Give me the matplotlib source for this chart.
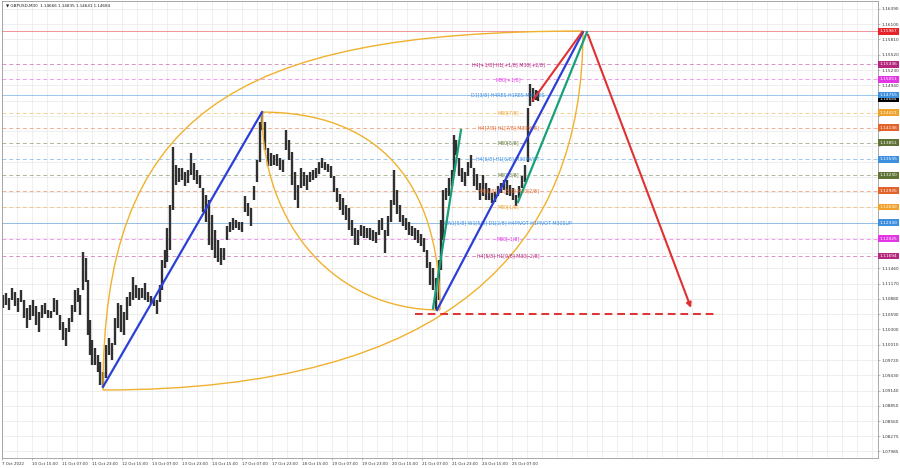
import numpy as np
import matplotlib.pyplot as plt
import matplotlib.transforms as mtransforms
from matplotlib.path import Path
from matplotlib.patches import PathPatch

# sampled M30 bars: chart position, high, low
t = [3, 6, 9, 12, 15, 18, 21, 24, 27, 30, 33, 36, 39, 42, 45, 48, 51, 54, 57, 60,
     63, 66, 69, 72, 75, 78, 80, 83, 86, 88, 90, 92, 95, 98, 100, 103,
     106, 109, 112, 115, 118, 121, 124, 127, 130, 133, 136, 139, 142, 145, 148, 151,
     154, 157, 160, 162, 165, 167, 170, 173, 176, 179, 182, 185, 188, 191, 194, 197,
     200, 203, 206, 209, 212, 215, 218, 221, 224, 227, 230, 233, 236, 239, 242, 245,
     248, 251, 254, 257, 260, 262,
     265, 268, 271, 274, 277, 280, 283, 286, 289, 292, 295, 298, 301, 304, 307, 310,
     313, 316, 319, 322, 325, 328, 331, 334, 337, 340, 343, 346, 349, 352, 355, 358,
     361, 364, 367, 370, 373, 376, 379, 382, 385, 388, 391, 394, 397, 400, 403, 406,
     409, 412, 415, 418, 421, 424, 427, 430, 433, 436,
     439, 441, 443, 446, 449, 452, 454, 456, 459, 462, 465, 468, 471, 474, 477, 480,
     483, 486, 489, 492, 495, 498, 501, 504, 507, 510, 513, 516, 519, 522, 525, 528,
     530, 533, 536, 538]

hi = [1.10955, 1.10993, 1.10898, 1.11088, 1.11012, 1.10898, 1.11050, 1.10860, 1.10708, 1.10765,
      1.10860, 1.10746, 1.10632, 1.10765, 1.10803, 1.10670, 1.10651, 1.10898, 1.10860, 1.10575,
      1.10442, 1.10328, 1.10518, 1.10765, 1.11050, 1.11088, 1.10955, 1.11772, 1.11658, 1.11240,
      1.10480, 1.10100, 1.09948, 1.09815, 1.09682, 1.09492,
      1.10005, 1.10138, 1.10043, 1.10518, 1.10803, 1.10765, 1.10632, 1.10917, 1.11012, 1.11297,
      1.11145, 1.11088, 1.11088, 1.11183, 1.11012, 1.10936, 1.10898, 1.10860, 1.11145,
      1.11620, 1.11810, 1.12228, 1.12665,
      1.13767, 1.13425, 1.13368, 1.13368, 1.13292, 1.13330, 1.13653, 1.13463, 1.13330, 1.13235,
      1.12988, 1.12855, 1.12760, 1.12475, 1.12190, 1.12000, 1.11848, 1.11848, 1.12266, 1.12342,
      1.12418, 1.12380, 1.12342, 1.12342, 1.12836, 1.12703, 1.12608, 1.13026, 1.13520, 1.14242,
      1.14432,
      1.14242, 1.13748, 1.13653, 1.13615, 1.13634, 1.13558, 1.13520, 1.14090, 1.13900, 1.13672,
      1.13292, 1.13045, 1.13368, 1.13292, 1.13235, 1.13292, 1.13330, 1.13368, 1.13482, 1.13558,
      1.13482, 1.13444, 1.13406, 1.13216, 1.12988, 1.12874, 1.12798, 1.12665, 1.12608, 1.12380,
      1.12228, 1.12190, 1.12285, 1.12266, 1.12228, 1.12228, 1.12190, 1.12152, 1.12380, 1.12418,
      1.12190, 1.12456, 1.12760, 1.13330, 1.12950, 1.12665, 1.12475, 1.12418, 1.12342, 1.12266,
      1.12228, 1.12190, 1.12114, 1.12038, 1.11810, 1.11582, 1.11468, 1.11278,
      1.11620, 1.12380, 1.12950, 1.12988, 1.13178, 1.13330, 1.13995, 1.13900, 1.13558, 1.13368,
      1.13292, 1.13482, 1.13615, 1.13368, 1.13254, 1.13083, 1.13235, 1.13083, 1.12988, 1.12893,
      1.12912, 1.13026, 1.13083, 1.13140, 1.13140, 1.13045, 1.12988, 1.12855, 1.13026, 1.13216,
      1.13425, 1.14508, 1.14964, 1.14888, 1.14850, 1.14835]

lo = [1.10708, 1.10765, 1.10670, 1.10860, 1.10746, 1.10632, 1.10822, 1.10518, 1.10328, 1.10480,
      1.10556, 1.10385, 1.10252, 1.10518, 1.10594, 1.10518, 1.10518, 1.10632, 1.10575, 1.10290,
      1.10100, 1.09986, 1.10252, 1.10442, 1.10632, 1.10822, 1.10575, 1.11050, 1.11202, 1.10195,
      1.09815, 1.09625, 1.09625, 1.09492, 1.09245, 1.09207,
      1.09378, 1.09815, 1.09720, 1.10005, 1.10328, 1.10252, 1.10195, 1.10480, 1.10746, 1.10860,
      1.10898, 1.10860, 1.10898, 1.10860, 1.10822, 1.10784, 1.10746, 1.10594, 1.10822,
      1.11050, 1.11468, 1.11582, 1.11810,
      1.12570, 1.13045, 1.13102, 1.13140, 1.13026, 1.13083, 1.13235, 1.13140, 1.13064, 1.12988,
      1.12532, 1.12342, 1.11905, 1.11810, 1.11658, 1.11582, 1.11525, 1.11620, 1.12000, 1.12152,
      1.12190, 1.12228, 1.12190, 1.12152, 1.12532, 1.12456, 1.12266, 1.12760, 1.13102, 1.13482,
      1.14090,
      1.13710, 1.13406, 1.13406, 1.13425, 1.13406, 1.13330, 1.13292, 1.13710, 1.13520, 1.13045,
      1.12760, 1.12608, 1.12988, 1.13026, 1.12950, 1.13102, 1.13140, 1.13178, 1.13254, 1.13368,
      1.13330, 1.13292, 1.13178, 1.12912, 1.12722, 1.12570, 1.12475, 1.12380, 1.12190, 1.12076,
      1.11905, 1.11905, 1.12076, 1.12038, 1.12038, 1.12000, 1.11981, 1.11943, 1.12095, 1.12190,
      1.11753, 1.12076, 1.12342, 1.12665, 1.12494, 1.12342, 1.12266, 1.12190, 1.12095, 1.12076,
      1.12000, 1.11943, 1.11886, 1.11772, 1.11468, 1.11145, 1.11050, 1.10670,
      1.10860, 1.11430, 1.12000, 1.12760, 1.12836, 1.13026, 1.13292, 1.13615, 1.13216, 1.13102,
      1.13026, 1.13216, 1.13368, 1.13026, 1.12950, 1.12760, 1.12836, 1.12760, 1.12760, 1.12703,
      1.12722, 1.12836, 1.12893, 1.12950, 1.12855, 1.12836, 1.12760, 1.12646, 1.12798, 1.12988,
      1.13102, 1.13482, 1.14546, 1.14622, 1.14660, 1.14641]

time_labels = ['7 Oct 2022', '10 Oct 15:00', '11 Oct 07:00', '11 Oct 23:00', '12 Oct 15:00',
               '13 Oct 07:00', '13 Oct 23:00', '14 Oct 15:00', '17 Oct 07:00', '17 Oct 23:00',
               '18 Oct 15:00', '19 Oct 07:00', '19 Oct 23:00', '20 Oct 15:00', '21 Oct 07:00',
               '21 Oct 23:00', '24 Oct 15:00', '25 Oct 07:00']

price_ticks = ['1.16390', '1.16100', '1.15810', '1.15520', '1.15230', '1.14940', '1.14650',
               '1.14360', '1.14070', '1.13780', '1.13490', '1.13200', '1.12910', '1.12620',
               '1.12330', '1.12040', '1.11750', '1.11460', '1.11170', '1.10880', '1.10590',
               '1.10300', '1.10010', '1.09720', '1.09430', '1.09140', '1.08850', '1.08560',
               '1.08275', '1.07985']

# murrey levels
levels = [1.15967, 1.15336, 1.15051, 1.14755, 1.14421, 1.14136, 1.13851,
          1.13535, 1.13230, 1.12935, 1.12630, 1.12330, 1.12025, 1.11694]
level_colors = ['#e8242b', '#b5267e', '#e536e5', '#3d8fe0', '#f0a22c', '#e3642b', '#5f7335',
                '#3d8fe0', '#5f7335', '#e3642b', '#f0a22c', '#3d8fe0', '#e536e5', '#b5267e']
level_solid = [True, False, False, True, False, False, False,
               False, False, False, False, True, False, False]
level_names = ['', 'H4[+1/8] H1[+1/8] M30[+2/8]', 'M30[+1/8]', 'D1[3/8] H4RES H1RES M30RES',
               'M30[7/8]', 'H4[7/8] H1[7/8] M30[6/8]', 'M30[5/8]', 'H4[6/8] H1[6/8] M30PIVOT',
               'M30[3/8]', 'H4[5/8] H1[5/8] M30[2/8]', 'M30[1/8]',
               'MN1[5/8] W1[5/8] D1[2/8] H4PIVOT H1PIVOT M30SUP', 'M30[-1/8]',
               'H4[5/8] H1[0/8] M30[-2/8]']

last_price = 1.14684
title = '\u25bc GBPUSD,M30  1.14666 1.14835 1.14641 1.14684'

# drawings on the chart (position, price)
blue_lines = [((103, 1.0921), (262, 1.1443)), ((437, 1.1067), (583, 1.1595))]
green_lines = [((433, 1.1070), (461, 1.1409)), ((518, 1.1272), (587, 1.1595))]
red_up = ((533, 1.1466), (582, 1.1595))
red_down = ((587, 1.1595), (692, 1.1066))
target_price = 1.1059
target_span = (415, 715)
big_lo, big_hi = (103, 1.0915), (583, 1.1597)
small_hi, small_lo = (262, 1.1443), (440, 1.1067)

fig = plt.figure(figsize=(9, 4.68), dpi=100)
ax = fig.add_axes([2 / 900, 10 / 468, 876 / 900, 457 / 468])
ax.set_xlim(2, 878)
ax.set_ylim(1.07858, 1.16541)

# axis labels, hide the ones sitting under a price box
boxed = levels + [last_price]
ylabels = [s if min(abs(float(s) - b) for b in boxed) > 0.00105 else '' for s in price_ticks]

ax.set_xticks([2 + 30 * i for i in range(len(time_labels))])
ax.set_xticklabels(time_labels, ha='left', fontsize=2.9, color='#333333')
ax.set_xticks(np.arange(17, 878, 15), minor=True)
ax.yaxis.tick_right()
ax.set_yticks([float(v) for v in price_ticks])
ax.set_yticklabels(ylabels, fontsize=3.1, color='#333333')
ax.tick_params(axis='both', which='both', length=1.5, width=0.4, color='#888888', pad=1.2)
ax.tick_params(axis='x', which='minor', length=0)
ax.grid(which='both', color='#e9e9e9', lw=0.5)
ax.set_axisbelow(True)
for s in ax.spines.values():
    s.set_color('#9a9a9a')
    s.set_linewidth(0.6)

# murrey level lines + labels
yt = mtransforms.blended_transform_factory(ax.transAxes, ax.transData)
ax.text(1.002, last_price, f'{last_price:.5f}', transform=yt, ha='left', va='center',
        fontsize=3.1, color='white', clip_on=False, zorder=6,
        bbox=dict(boxstyle='square,pad=0.3', fc='black', ec='none'))
for p, c, solid, name in zip(levels, level_colors, level_solid, level_names):
    ax.axhline(p, color=c, lw=0.7, alpha=0.5, ls='-' if solid else (0, (4, 3)), zorder=1)
    if name:
        ax.text(508, p, name, ha='center', va='center', fontsize=3.4, color=c, zorder=4)
    ax.text(1.002, p, f'{p:.5f}', transform=yt, ha='left', va='center', fontsize=3.1,
            color='white', clip_on=False, zorder=7,
            bbox=dict(boxstyle='square,pad=0.3', fc=c, ec='none'))

# price bars
ax.vlines(t, lo, hi, color='#303030', lw=1.7, zorder=2)

# ellipse-like arcs
arc_color = '#f0b12e'


def arc(p0, p1, corner, k0, k1):
    c0 = (p0[0] + k0 * (corner[0] - p0[0]), p0[1] + k0 * (corner[1] - p0[1]))
    c1 = (p1[0] + k1 * (corner[0] - p1[0]), p1[1] + k1 * (corner[1] - p1[1]))
    path = Path([p0, c0, c1, p1], [Path.MOVETO, Path.CURVE4, Path.CURVE4, Path.CURVE4])
    ax.add_patch(PathPatch(path, fill=False, ec=arc_color, lw=1.0, zorder=3))


arc(big_lo, big_hi, (big_lo[0], big_hi[1]), 0.76, 0.74)
arc(big_lo, big_hi, (big_hi[0], big_lo[1]), 0.72, 0.61)
arc(small_hi, small_lo, (small_lo[0], small_hi[1]), 0.65, 0.65)
arc(small_hi, small_lo, (small_hi[0], small_lo[1]), 0.58, 0.58)

# trend lines
for a, b in blue_lines:
    ax.plot([a[0], b[0]], [a[1], b[1]], color='#2b3fd6', lw=1.6, zorder=5)
for a, b in green_lines:
    ax.plot([a[0], b[0]], [a[1], b[1]], color='#17a07a', lw=1.6, zorder=5)
ax.plot([red_up[0][0], red_up[1][0]], [red_up[0][1], red_up[1][1]],
        color='#e03030', lw=1.5, zorder=5)
ax.annotate('', xy=red_down[1], xytext=red_down[0], zorder=5,
            arrowprops=dict(arrowstyle='-|>', color='#e03030', lw=1.5, mutation_scale=7))
ax.plot(target_span, [target_price, target_price], color='#e03030', lw=1.4,
        ls=(0, (4, 2.5)), zorder=5)

ax.text(0.004, 0.994, title, transform=ax.transAxes, ha='left', va='top',
        fontsize=3.0, color='#222222')

fig.savefig('out.png', dpi=100)
